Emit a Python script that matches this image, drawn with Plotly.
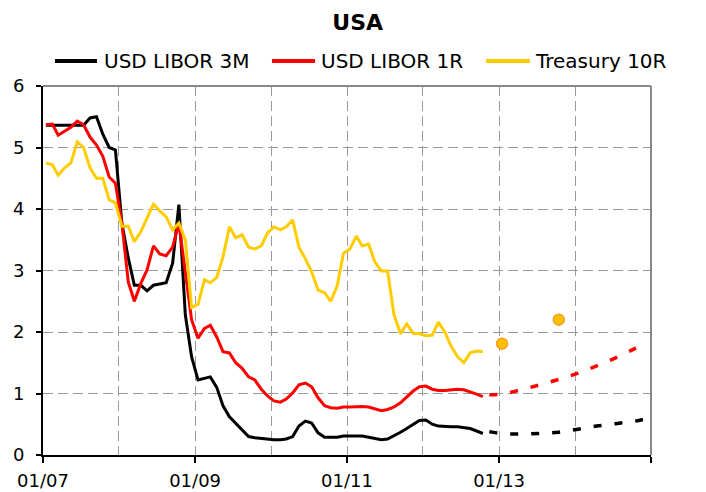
import plotly.graph_objects as go

# ---- data (monthly, Jan 2007 .. Oct 2012) ----
n_months = 70
dates = [f"{2007 + m // 12}-{m % 12 + 1:02d}-15" for m in range(n_months)]

libor_3m = [5.36, 5.36, 5.35, 5.35, 5.36, 5.36, 5.36, 5.48, 5.50, 5.22,
            5.00, 4.96, 3.77, 3.20, 2.76, 2.76, 2.67, 2.76, 2.78, 2.80,
            3.12, 4.07, 2.28, 1.60, 1.22, 1.25, 1.27, 1.10, 0.80, 0.62,
            0.52, 0.42, 0.30, 0.28, 0.27, 0.25, 0.25, 0.25, 0.26, 0.30,
            0.47, 0.55, 0.52, 0.36, 0.29, 0.29, 0.29, 0.31, 0.31, 0.32,
            0.31, 0.29, 0.27, 0.25, 0.26, 0.31, 0.37, 0.43, 0.50, 0.56,
            0.57, 0.50, 0.47, 0.46, 0.46, 0.46, 0.45, 0.43, 0.39, 0.35]

libor_1y = [5.37, 5.38, 5.20, 5.27, 5.33, 5.43, 5.37, 5.17, 5.04, 4.86,
            4.52, 4.42, 3.77, 2.81, 2.50, 2.79, 3.01, 3.40, 3.27, 3.24,
            3.38, 3.77, 3.00, 2.20, 1.90, 2.06, 2.11, 1.92, 1.68, 1.66,
            1.50, 1.41, 1.27, 1.22, 1.07, 0.96, 0.88, 0.86, 0.91, 1.01,
            1.14, 1.17, 1.11, 0.93, 0.80, 0.77, 0.76, 0.78, 0.78, 0.79,
            0.79, 0.78, 0.75, 0.72, 0.74, 0.78, 0.85, 0.94, 1.04, 1.11,
            1.12, 1.07, 1.05, 1.05, 1.06, 1.07, 1.06, 1.03, 0.99, 0.95]

treasury_10y = [4.75, 4.72, 4.55, 4.67, 4.75, 5.09, 5.00, 4.67, 4.50, 4.50,
                4.15, 4.10, 3.72, 3.72, 3.47, 3.63, 3.85, 4.08, 3.97, 3.87,
                3.66, 3.77, 3.50, 2.40, 2.45, 2.85, 2.80, 2.89, 3.22, 3.71,
                3.53, 3.58, 3.38, 3.35, 3.40, 3.61, 3.71, 3.66, 3.71, 3.82,
                3.38, 3.19, 2.98, 2.68, 2.64, 2.50, 2.75, 3.28, 3.35, 3.56,
                3.40, 3.43, 3.14, 2.99, 2.99, 2.28, 1.97, 2.13, 1.98, 1.97,
                1.94, 1.95, 2.16, 2.00, 1.77, 1.60, 1.50, 1.66, 1.69, 1.68]

# ---- forecasts ----
fc_dates = ["2012-11-15", "2013-01-15", "2013-04-15", "2013-07-15", "2013-10-15",
            "2014-01-15", "2014-04-15", "2014-07-15", "2014-10-15", "2014-12-10"]
fc_libor_3m = [0.38, 0.35, 0.34, 0.35, 0.37, 0.42, 0.47, 0.51, 0.55, 0.59]
fc_libor_1y = [0.98, 0.99, 1.06, 1.14, 1.23, 1.33, 1.45, 1.58, 1.73, 1.82]

tsy_fc_dates = ["2013-01-15", "2013-10-15"]
tsy_fc_values = [1.81, 2.20]

tick_dates = ["2007-01-01", "2009-01-01", "2011-01-01", "2013-01-01", "2015-01-01"]
tick_labels = ["01/07", "01/09", "01/11", "01/13", ""]

names = ["USD LIBOR 3M", "USD LIBOR 1R", "Treasury 10R"]
colors = ["#000000", "#FF0000", "#FFCC00"]

FONT = "DejaVu Sans"

fig = go.Figure()
for name, vals, col in zip(names, [libor_3m, libor_1y, treasury_10y], colors):
    fig.add_trace(go.Scatter(x=dates, y=vals, mode="lines", name=name,
                             showlegend=False, line=dict(color=col, width=3)))

for vals, col in zip([fc_libor_3m, fc_libor_1y], colors[:2]):
    fig.add_trace(go.Scatter(x=fc_dates, y=vals, mode="lines", showlegend=False,
                             line=dict(color=col, width=3.5, dash="8px,13px",
                                       shape="spline")))

fig.add_trace(go.Scatter(x=tsy_fc_dates, y=tsy_fc_values, mode="markers",
                         showlegend=False,
                         marker=dict(size=11, color="#FFC000",
                                     line=dict(color="#F0A020", width=1.5))))

grid_col = "#9A9A9A"
fig.update_layout(
    width=698, height=484,
    margin=dict(l=35, r=55, t=78, b=37),
    paper_bgcolor="white", plot_bgcolor="white",
    font=dict(family=FONT, size=18, color="#000000"),
    title=dict(text="<b>USA</b>", x=0.501, xanchor="center", y=0.971,
               yanchor="middle", font=dict(family=FONT, size=22)),
    showlegend=False,
)

# legend drawn as line samples + text (paper coordinates)
legend_y = 1.068
legend_line_x = [(0.0197, 0.0888), (0.3766, 0.4474), (0.7286, 0.8010)]
legend_text_x = [0.0987, 0.4556, 0.8076]
for name, col, (lx0, lx1), tx in zip(names, colors, legend_line_x, legend_text_x):
    fig.add_shape(type="line", xref="paper", yref="paper",
                  x0=lx0, x1=lx1, y0=legend_y, y1=legend_y,
                  line=dict(color=col, width=4))
    fig.add_annotation(xref="paper", yref="paper", x=tx, y=legend_y,
                       xanchor="left", yanchor="middle", showarrow=False,
                       text=name, font=dict(family=FONT, size=20, color="#000000"),
                       borderpad=0)

fig.update_xaxes(
    type="date", range=["2007-01-01", "2015-01-01"],
    tickmode="array", tickvals=tick_dates, ticktext=tick_labels,
    ticks="outside", ticklen=6, tickcolor="#000000", tickwidth=1.5,
    ticklabelstandoff=2,
    showline=True, linecolor="#000000", linewidth=2,
    showgrid=True, gridcolor=grid_col, gridwidth=1.2, griddash="10px,5px",
    minor=dict(dtick="M12", tick0="2007-01-01", showgrid=True,
               gridcolor=grid_col, gridwidth=1.2, griddash="10px,5px", ticks=""),
    zeroline=False, fixedrange=True, automargin=False,
)
fig.update_yaxes(
    range=[0, 6], dtick=1, tick0=0,
    ticks="outside", ticklen=5, tickcolor="#000000", tickwidth=1.5,
    ticklabelstandoff=8,
    showline=True, linecolor="#000000", linewidth=2,
    showgrid=True, gridcolor=grid_col, gridwidth=1.2, griddash="10px,5px",
    zeroline=False, fixedrange=True, automargin=False,
)

# gray top & right frame
fig.add_shape(type="line", xref="paper", yref="paper", x0=0, x1=1, y0=1, y1=1,
              line=dict(color="#888888", width=2))
fig.add_shape(type="line", xref="paper", yref="paper", x0=1, x1=1, y0=0, y1=1,
              line=dict(color="#888888", width=2))

fig.write_html("out.html")
